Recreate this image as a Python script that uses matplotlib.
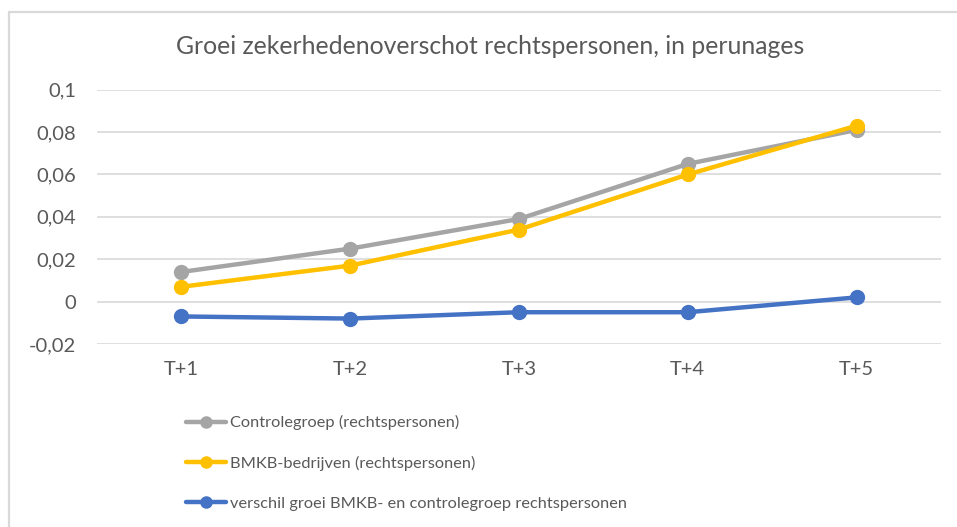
import matplotlib
matplotlib.use('Agg')
import matplotlib.pyplot as plt
from matplotlib.patches import Rectangle
from matplotlib.ticker import FuncFormatter

plt.rcParams['font.family'] = ['Lato', 'DejaVu Sans']

# data
periodes = ['T+1', 'T+2', 'T+3', 'T+4', 'T+5']
controlegroep = [0.014, 0.025, 0.039, 0.065, 0.081]
bmkb = [0.007, 0.017, 0.034, 0.060, 0.083]
verschil = [-0.007, -0.008, -0.005, -0.005, 0.002]
labels = ['Controlegroep (rechtspersonen)',
          'BMKB-bedrijven (rechtspersonen)',
          'verschil groei BMKB- en controlegroep rechtspersonen']
titel = 'Groei zekerhedenoverschot rechtspersonen, in perunages'

tekst_kleur = '#595959'
kleuren = ['#A5A5A5', '#FFC000', '#4472C4']

fig = plt.figure(figsize=(9.57, 5.27), dpi=100)
fig.patch.set_facecolor('white')

# grijze rand rond de grafiek
fig.patches.append(Rectangle((8.5 / 957, -0.1), 1.2, 1.1 - 11.5 / 527,
                             transform=fig.transFigure, fill=False,
                             edgecolor='#D9D9D9', linewidth=1.6))

ax = fig.add_axes([97 / 957, 1 - 344 / 527, 844 / 957, (344 - 89.7) / 527])

x = range(len(periodes))
for reeks, kleur, lab in zip([controlegroep, bmkb, verschil], kleuren, labels):
    ax.plot(x, reeks, color=kleur, linewidth=3.2, marker='o', markersize=10,
            label=lab, solid_capstyle='round')

ax.set_xlim(-0.5, len(periodes) - 0.5)
ax.set_ylim(-0.02, 0.1)
ax.set_yticks([-0.02, 0, 0.02, 0.04, 0.06, 0.08, 0.1])
ax.yaxis.set_major_formatter(FuncFormatter(
    lambda v, p: '0' if abs(v) < 1e-9 else ('%g' % round(v, 2)).replace('.', ',')))
ax.set_xticks(list(x))
ax.set_xticklabels(periodes)

ax.grid(axis='y', color='#D9D9D9', linewidth=1.2)
ax.set_axisbelow(True)
for s in ax.spines.values():
    s.set_visible(False)
ax.tick_params(axis='both', length=0, labelsize=14.5, labelcolor=tekst_kleur)
ax.tick_params(axis='y', pad=15)
ax.tick_params(axis='x', pad=12)

fig.text(490 / 957, 1 - 46 / 527, titel, ha='center', va='center',
         fontsize=17.8, color=tekst_kleur)

leg = ax.legend(loc='upper left', bbox_to_anchor=(178 / 957, 1 - 407 / 527),
                bbox_transform=fig.transFigure, frameon=False, fontsize=11.8,
                handlelength=2.45, handletextpad=0.2, labelspacing=1.55,
                borderpad=0, markerscale=0.8)
for t in leg.get_texts():
    t.set_color(tekst_kleur)

plt.savefig('out.png', dpi=100, facecolor='white')
